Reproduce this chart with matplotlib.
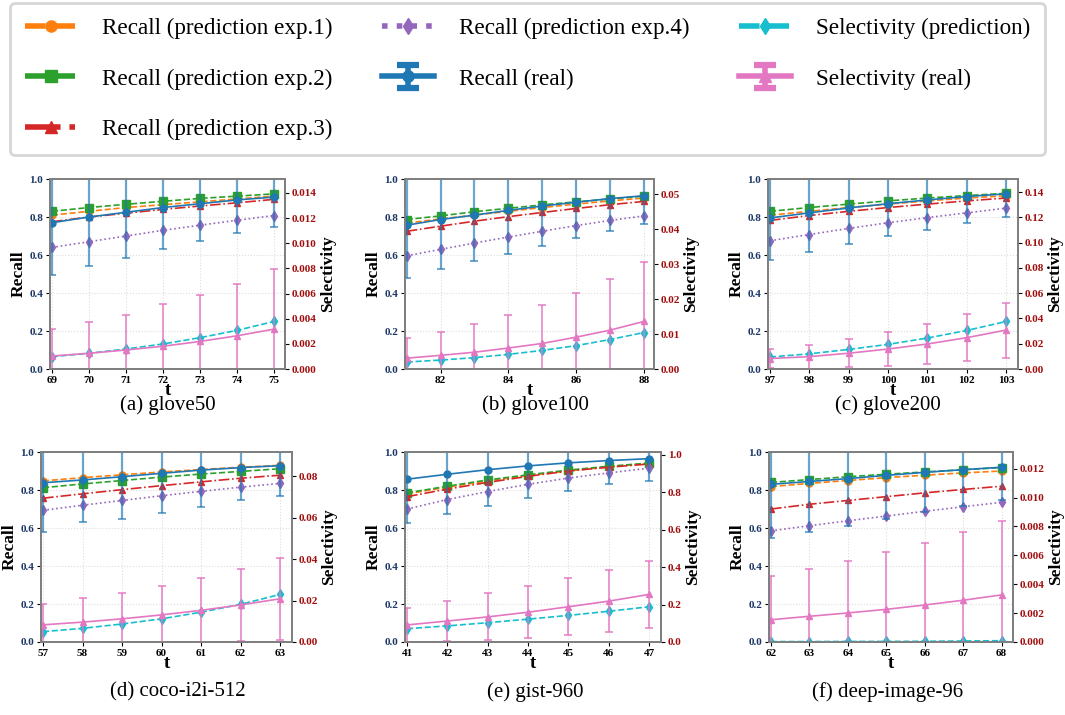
import matplotlib
matplotlib.use("Agg")
import matplotlib.pyplot as plt
from matplotlib.lines import Line2D
from matplotlib.collections import LineCollection
from matplotlib.ticker import MultipleLocator, FormatStrFormatter
import numpy as np

plt.rcParams['font.family'] = ['Liberation Serif', 'DejaVu Serif']
plt.rcParams['mathtext.fontset'] = 'stix'

# ---------------- data ----------------
titles = ["(a) glove50", "(b) glove100", "(c) glove200",
          "(d) coco-i2i-512", "(e) gist-960", "(f) deep-image-96"]

t_a = [69, 70, 71, 72, 73, 74, 75]
t_b = [81, 82, 83, 84, 85, 86, 87, 88]
t_c = [97, 98, 99, 100, 101, 102, 103]
t_d = [57, 58, 59, 60, 61, 62, 63]
t_e = [41, 42, 43, 44, 45, 46, 47]
t_f = [62, 63, 64, 65, 66, 67, 68]

# recall (real) and its std
real_a = [0.770, 0.800, 0.825, 0.850, 0.870, 0.890, 0.905]
real_err_a = [0.275, 0.260, 0.240, 0.218, 0.198, 0.175, 0.157]
real_b = [0.757, 0.787, 0.810, 0.835, 0.858, 0.878, 0.897, 0.912]
real_err_b = [0.279, 0.262, 0.242, 0.228, 0.210, 0.191, 0.173, 0.150]
real_c = [0.795, 0.822, 0.848, 0.870, 0.890, 0.908, 0.922]
real_err_c = [0.223, 0.207, 0.192, 0.172, 0.158, 0.140, 0.122]
real_d = [0.838, 0.853, 0.870, 0.888, 0.905, 0.918, 0.928]
real_err_d = [0.260, 0.221, 0.224, 0.208, 0.192, 0.173, 0.158]
real_e = [0.857, 0.883, 0.907, 0.927, 0.943, 0.955, 0.965]
real_err_e = [0.232, 0.211, 0.189, 0.167, 0.146, 0.125, 0.115]
real_f = [0.830, 0.845, 0.860, 0.877, 0.893, 0.907, 0.920]
real_err_f = [0.283, 0.265, 0.250, 0.229, 0.210, 0.190, 0.170]

# recall predictions
exp1_a = [0.810, 0.830, 0.850, 0.865, 0.880, 0.895, 0.910]
exp2_a = [0.830, 0.850, 0.867, 0.883, 0.898, 0.910, 0.922]
exp3_a = [0.775, 0.800, 0.820, 0.840, 0.858, 0.875, 0.893]
exp4_a = [0.640, 0.670, 0.700, 0.730, 0.757, 0.783, 0.808]

exp1_b = [0.768, 0.790, 0.810, 0.830, 0.850, 0.868, 0.885, 0.900]
exp2_b = [0.787, 0.806, 0.828, 0.846, 0.864, 0.880, 0.895, 0.910]
exp3_b = [0.725, 0.752, 0.778, 0.802, 0.824, 0.845, 0.865, 0.882]
exp4_b = [0.596, 0.630, 0.663, 0.695, 0.725, 0.755, 0.782, 0.806]

exp1_c = [0.810, 0.830, 0.850, 0.868, 0.885, 0.900, 0.912]
exp2_c = [0.830, 0.850, 0.868, 0.885, 0.900, 0.913, 0.925]
exp3_c = [0.782, 0.808, 0.830, 0.850, 0.868, 0.885, 0.900]
exp4_c = [0.675, 0.708, 0.740, 0.770, 0.797, 0.822, 0.847]

exp1_d = [0.848, 0.865, 0.880, 0.895, 0.908, 0.920, 0.930]
exp2_d = [0.812, 0.832, 0.850, 0.868, 0.884, 0.898, 0.912]
exp3_d = [0.757, 0.780, 0.802, 0.823, 0.843, 0.862, 0.878]
exp4_d = [0.693, 0.720, 0.745, 0.770, 0.793, 0.815, 0.835]

exp1_e = [0.780, 0.815, 0.848, 0.876, 0.900, 0.922, 0.940]
exp2_e = [0.785, 0.820, 0.853, 0.880, 0.905, 0.925, 0.942]
exp3_e = [0.765, 0.805, 0.840, 0.872, 0.900, 0.920, 0.937]
exp4_e = [0.700, 0.750, 0.792, 0.830, 0.863, 0.890, 0.915]

exp1_f = [0.818, 0.835, 0.850, 0.865, 0.878, 0.890, 0.900]
exp2_f = [0.840, 0.855, 0.870, 0.883, 0.895, 0.907, 0.918]
exp3_f = [0.700, 0.725, 0.745, 0.765, 0.785, 0.803, 0.820]
exp4_f = [0.585, 0.612, 0.638, 0.663, 0.688, 0.712, 0.735]

# selectivity prediction / real / std
selp_a = [0.00098, 0.00125, 0.00159, 0.00199, 0.00249, 0.00307, 0.00378]
selr_a = [0.00103, 0.00125, 0.00151, 0.00181, 0.00219, 0.00264, 0.00317]
selr_err_a = [0.00214, 0.00245, 0.00279, 0.00332, 0.00370, 0.00415, 0.00476]

selp_b = [0.0020, 0.00255, 0.00326, 0.00418, 0.00532, 0.00668, 0.00842, 0.01043]
selr_b = [0.0031, 0.0039, 0.0048, 0.0060, 0.0073, 0.0091, 0.0111, 0.0136]
selr_err_b = [0.0059, 0.0068, 0.0080, 0.0093, 0.0109, 0.0126, 0.0147, 0.0169]

selp_c = [0.0095, 0.0120, 0.0155, 0.0195, 0.0245, 0.0305, 0.0376]
selr_c = [0.0083, 0.0098, 0.0125, 0.0158, 0.0198, 0.0248, 0.0308]
selr_err_c = [0.0072, 0.0094, 0.0112, 0.0135, 0.0160, 0.0188, 0.0218]

selp_d = [0.0050, 0.0066, 0.0087, 0.0112, 0.0144, 0.0182, 0.0230]
selr_d = [0.0083, 0.0096, 0.0112, 0.0131, 0.0153, 0.0179, 0.0209]
selr_err_d = [0.0103, 0.0115, 0.0127, 0.0140, 0.0155, 0.0174, 0.0198]

selp_e = [0.071, 0.086, 0.103, 0.122, 0.142, 0.164, 0.188]
selr_e = [0.091, 0.112, 0.134, 0.159, 0.188, 0.218, 0.254]
selr_err_e = [0.091, 0.106, 0.125, 0.138, 0.152, 0.167, 0.178]

selp_f = [0.00003, 0.00003, 0.00004, 0.00004, 0.00005, 0.00007, 0.00009]
selr_f = [0.00154, 0.00178, 0.00201, 0.00226, 0.00256, 0.00289, 0.00326]
selr_err_f = [0.00300, 0.00329, 0.00362, 0.00395, 0.00431, 0.00473, 0.00515]

sel_max = [0.0151, 0.0543, 0.1503, 0.0918, 1.0142, 0.01315]
sel_step = [0.002, 0.01, 0.02, 0.02, 0.2, 0.002]
sel_fmt = ["%.3f", "%.2f", "%.2f", "%.2f", "%.1f", "%.3f"]
xticks_b = [82, 84, 86, 88]

panels = [
    (t_a, real_a, real_err_a, exp1_a, exp2_a, exp3_a, exp4_a, selp_a, selr_a, selr_err_a),
    (t_b, real_b, real_err_b, exp1_b, exp2_b, exp3_b, exp4_b, selp_b, selr_b, selr_err_b),
    (t_c, real_c, real_err_c, exp1_c, exp2_c, exp3_c, exp4_c, selp_c, selr_c, selr_err_c),
    (t_d, real_d, real_err_d, exp1_d, exp2_d, exp3_d, exp4_d, selp_d, selr_d, selr_err_d),
    (t_e, real_e, real_err_e, exp1_e, exp2_e, exp3_e, exp4_e, selp_e, selr_e, selr_err_e),
    (t_f, real_f, real_err_f, exp1_f, exp2_f, exp3_f, exp4_f, selp_f, selr_f, selr_err_f),
]

labels = ["Recall (prediction exp.1)", "Recall (prediction exp.2)",
          "Recall (prediction exp.3)", "Recall (prediction exp.4)",
          "Recall (real)", "Selectivity (prediction)", "Selectivity (real)"]

# ---------------- style ----------------
C_O, C_G, C_R, C_P = '#ff7f0e', '#2ca02c', '#d62728', '#9467bd'
C_B, C_C, C_K = '#1f77b4', '#17becf', '#e377c2'
LEFT_COL = '#1c3766'
RIGHT_COL = '#a00d0d'
SPINE_COL = '#7f7f7f'

axes_pos = [
    (0.047, 0.4839, 0.2207, 0.2657),
    (0.3803, 0.4839, 0.2338, 0.2657),
    (0.7211, 0.4839, 0.2347, 0.2657),
    (0.0385, 0.1021, 0.2357, 0.2657),
    (0.3803, 0.1021, 0.2404, 0.2657),
    (0.7221, 0.1021, 0.2291, 0.2657),
]
caption_xy = [(168, 405), (535, 405), (888, 405), (178, 692), (535, 692), (888, 692)]

W, H = 1065, 715
fig = plt.figure(figsize=(W / 100, H / 100), dpi=100)

tick_fs = 8
lab_fs = 12.5
ms = 5

handles = None
for i, (pos, p) in enumerate(zip(axes_pos, panels)):
    t, real, rerr, e1, e2, e3, e4, sp, sr, srerr = p
    ax = fig.add_axes(pos)
    ax2 = ax.twinx()

    h1, = ax.plot(t, e1, color=C_O, ls='--', marker='o', ms=ms, lw=1.2)
    h2, = ax.plot(t, e2, color=C_G, ls='--', marker='s', ms=ms + 1, lw=1.2)
    h3, = ax.plot(t, e3, color=C_R, ls='-.', marker='^', ms=ms, lw=1.2)
    h4, = ax.plot(t, e4, color=C_P, ls=':', marker='d', ms=ms, lw=1.2)
    h5 = ax.errorbar(t, real, yerr=rerr, color=C_B, ls='-', marker='o', ms=ms,
                     lw=1.2, elinewidth=1.6, capsize=3, capthick=1.4,
                     ecolor=(0.122, 0.467, 0.706, 0.65))
    h6, = ax2.plot(t, sp, color=C_C, ls='--', marker='d', ms=ms, lw=1.2)
    h7 = ax2.errorbar(t, sr, yerr=srerr, color=C_K, ls='-', marker='^', ms=ms,
                      lw=1.2, elinewidth=1.4, capsize=3, capthick=1.4,
                      ecolor=(0.89, 0.467, 0.761, 0.75))
    if handles is None:
        handles = [h1, h2, h3, h4, h5, h6, h7]

    ax.set_ylim(0, 1.0)
    ax2.set_ylim(0, sel_max[i])
    ax.set_xlim(t[0] - 0.05, t[-1] + 0.3)
    if i == 1:
        ax.set_xticks(xticks_b)
    else:
        ax.set_xticks(t)
    ax.set_yticks(np.arange(0, 1.01, 0.2))
    ax.yaxis.set_major_formatter(FormatStrFormatter('%.1f'))
    ax2.yaxis.set_major_locator(MultipleLocator(sel_step[i]))
    ax2.yaxis.set_major_formatter(FormatStrFormatter(sel_fmt[i]))

    ax.grid(True, color='#dddddd', ls=':', lw=0.8)
    ax.set_xlabel('t', fontsize=lab_fs + 1, fontweight='bold', labelpad=-2)
    ax.set_ylabel('Recall', fontsize=lab_fs, fontweight='bold', labelpad=2)
    ax2.set_ylabel('Selectivity', fontsize=lab_fs, fontweight='bold', labelpad=2)

    ax.tick_params(axis='y', labelsize=tick_fs, labelcolor=LEFT_COL, length=3, pad=2)
    ax.tick_params(axis='x', labelsize=tick_fs, length=3, pad=2)
    ax2.tick_params(axis='y', labelsize=tick_fs, labelcolor=RIGHT_COL, length=3, pad=2)
    for lab in ax.get_xticklabels() + ax.get_yticklabels() + ax2.get_yticklabels():
        lab.set_fontweight('bold')
    for a in (ax, ax2):
        for s in a.spines.values():
            s.set_color(SPINE_COL)
            s.set_linewidth(1.3)

    cx, cy = caption_xy[i]
    fig.text(cx / W, 1 - cy / H, titles[i], fontsize=15, ha='center', va='center')

leg = fig.legend(handles, labels, loc='upper left', ncol=3,
                 bbox_to_anchor=(10 / W, 1 - 152 / H, 1035 / W, 149 / H), mode='expand',
                 fontsize=16.7, frameon=True, fancybox=True, handlelength=2.25,
                 handletextpad=1.05, labelspacing=1.25, borderpad=0.65,
                 columnspacing=1.5, borderaxespad=0.0)
leg.get_frame().set_edgecolor('#cccccc')
leg.get_frame().set_linewidth(2)

for ln in leg.findobj(Line2D):
    if ln.get_marker() == '_':
        ln.set_markersize(16)
        ln.set_markeredgewidth(4.5)
        c = ln.get_markeredgecolor()
        ln.set_markeredgecolor(matplotlib.colors.to_rgb(c))
    else:
        ln.set_linewidth(4)
        ln.set_markersize(8)
for lc in leg.findobj(LineCollection):
    lc.set_linewidth(4)
    cols = lc.get_colors()
    if len(cols):
        cols = cols.copy()
        cols[:, 3] = 1.0
        lc.set_colors(cols)

fig.savefig('out.png', dpi=100)
